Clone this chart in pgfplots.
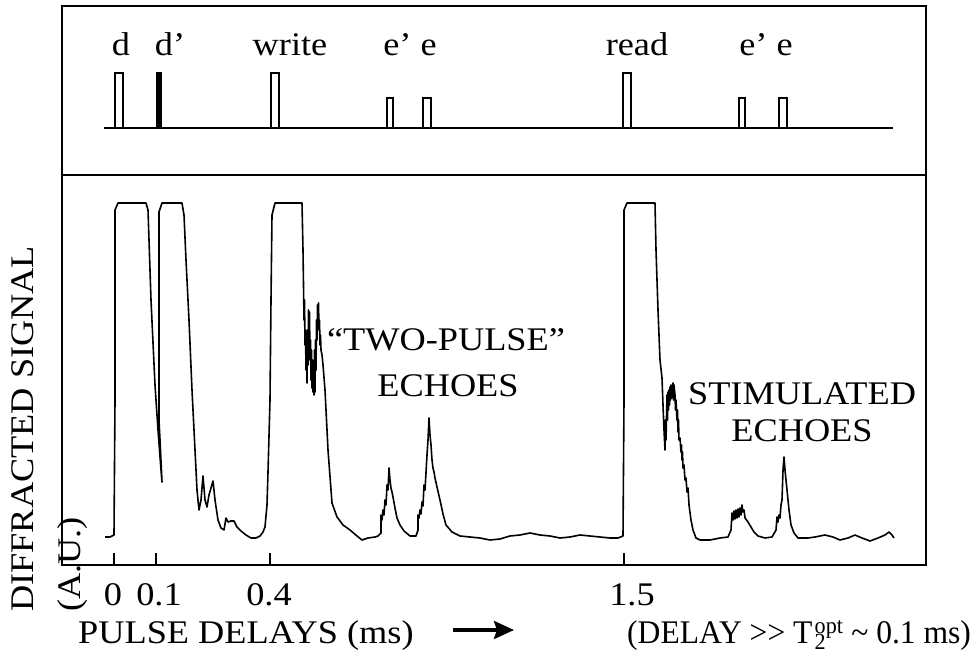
\documentclass[border=0pt]{standalone}
\usepackage{fontspec}
\setmainfont{Liberation Serif}[FakeStretch=1.1]
\usepackage{pgfplots}
\pgfplotsset{compat=1.18}
\usetikzlibrary{arrows.meta}
\pgfplotstableread{
px py
105 537
110 537
114 535
115 400
115 210
118 203
146 203
148 210
151 300
155 385
158 430
161 470
162 482
160 440
159 420
159 212
162 203
182 203
184 215
186 260
189 320
192 390
195 450
197 490
199 510
201 500
203 476
205 500
207 507
209 495
211 488
213 481
215 500
218 520
221 528
224 530
226 518
228 522
231 521
234 521
237 527
241 531
246 535
251 538
256 538
260 536
263 532
265 527
267 505
268 472
270 400
271 300
272 215
275 203
302 203
303 250
304 320
304.5 300
305 345
305.5 330
306 370
306.5 340
307 383
307.5 330
308 365
308.5 310
309 340
309.5 312
310 360
310.5 340
311 380
311.5 350
312 388
312.5 360
313 392
313.5 365
314 395
314.5 350
315 392
315.5 340
316 370
316.5 320
317 340
317.5 305
318 320
318.5 303
319 330
319.5 320
320 345
320.5 335
321 350
322 355
323 365
325 390
328 450
332 503
337 517
343 525
350 530
357 536
362 540
368 538
375 537
378 536
381 533
381 515
382 520
383 510
384 515
385 500
386 505
387 485
388 490
389 468
390 480
391 488
392 492
393 497
395 508
397 518
400 525
404 531
410 536
416 536
418 530
418 515
419 518
420 510
421 514
422 502
423 506
424 485
425 490
427 455
428 440
429 418
430 435
431 445
432 460
433 468
434 472
435 478
437 487
440 500
443 514
446 525
452 532
460 536
470 537
480 538
490 540
500 539
510 536
520 535
530 533
540 535
550 536
560 538
570 537
580 535
590 536
600 537
610 538
618 538
623 536
624 400
624 210
627 203
655 203
656 250
658 310
660 360
662 378
663 405
664 430
665 450
665.5 420
666 440
667 395
667.5 420
668 392
668.5 410
669 390
669.5 405
670 387
670.5 400
671 385
671.5 398
672 392
673 383
673.5 400
674 385
675 395
675.5 410
676 400
677 420
677.5 410
678 432
678.5 420
679 440
680 438
681 452
681.5 445
682 460
682.5 452
683 468
684 465
685 480
686 478
687 492
688 488
689 505
691 520
693 530
696 538
700 540
710 540
720 538
728 537
731 530
732 513
733 520
734 511
735 519
736 510
737 518
738 509
739 517
740 508
741 515
742 505
743 512
744 510
745 518
748 522
751 527
754 532
758 536
765 538
772 537
776 530
777 517
778 522
779 515
780 518
781 505
782 500
783 470
784 457
785 470
786 480
787 490
789 510
791 525
794 533
798 538
808 538
815 537
825 535
833 537
840 540
848 538
855 535
862 538
870 541
878 538
885 535
889 532
892 535
894 538
}\trace
\begin{document}
\begin{tikzpicture}[font=\fontsize{33}{40}\selectfont]
\useasboundingbox (0,0) rectangle (974pt,660pt);
\begin{axis}[
  at={(62pt,95pt)}, anchor=south west,
  scale only axis,
  width=864pt, height=559pt,
  xmin=62, xmax=926, ymin=6, ymax=565,
  y dir=reverse,
  clip=false,
  axis line style={line width=1.6pt},
  xtick={114,156,270,624},
  xticklabels=\empty,
  ytick=\empty,
  xtick pos=bottom,
  tick align=inside,
  major tick length=12pt,
  every tick/.style={black, line width=1.6pt},
]
% panel divider
\draw[line width=1.6pt] (axis cs:62,175) -- (axis cs:926,175);
% pulse sequence
\addplot[black, line width=2.5pt] coordinates {(104,128) (893,128)};
\addplot[black, line width=1.5pt, fill=white] coordinates {(115,128) (115,73) (123,73) (123,128)} -- cycle;
\addplot[black, line width=1.5pt, fill=black] coordinates {(157,128) (157,73) (161,73) (161,128)} -- cycle;
\addplot[black, line width=1.5pt, fill=white] coordinates {(271,128) (271,73) (279,73) (279,128)} -- cycle;
\addplot[black, line width=1.5pt, fill=white] coordinates {(387,128) (387,98) (393,98) (393,128)} -- cycle;
\addplot[black, line width=1.5pt, fill=white] coordinates {(423,128) (423,98) (431,98) (431,128)} -- cycle;
\addplot[black, line width=1.5pt, fill=white] coordinates {(623,128) (623,73) (631,73) (631,128)} -- cycle;
\addplot[black, line width=1.5pt, fill=white] coordinates {(739,128) (739,98) (745,98) (745,128)} -- cycle;
\addplot[black, line width=1.5pt, fill=white] coordinates {(779,128) (779,98) (787,98) (787,128)} -- cycle;
\node[anchor=base] at (axis cs:121,56) {d};
\node[anchor=base] at (axis cs:170,56) {d’};
\node[anchor=base] at (axis cs:290,56) {write};
\node[anchor=base] at (axis cs:410,56) {e’ e};
\node[anchor=base] at (axis cs:637,56) {read};
\node[anchor=base] at (axis cs:766,56) {e’ e};
% signal trace
\addplot[black, line width=1.6pt, line join=round] table[x=px, y=py] {\trace};
\node[anchor=base] at (axis cs:446,350) {“TWO-PULSE”};
\node[anchor=base] at (axis cs:448,396) {ECHOES};
\node[anchor=base] at (axis cs:802,404) {STIMULATED};
\node[anchor=base] at (axis cs:802,441) {ECHOES};
% tick labels
\node[anchor=base] at (axis cs:113,605) {0};
\node[anchor=base] at (axis cs:159,605) {0.1};
\node[anchor=base] at (axis cs:269,605) {0.4};
\node[anchor=base] at (axis cs:632,605) {1.5};
% axis labels
\node[rotate=90, anchor=base west, inner sep=0pt] at (axis cs:33,612) {DIFFRACTED SIGNAL};
\node[rotate=90, anchor=base west, inner sep=0pt] at (axis cs:80,612) {(A.U.)};
\node[anchor=base west, inner sep=0pt] at (axis cs:78,643) {PULSE DELAYS (ms)};
\draw[line width=3.5pt, -{Stealth[length=20pt, width=18pt, inset=3pt]}] (axis cs:453,630) -- (axis cs:514,630);
\node[anchor=base west, inner sep=0pt] at (axis cs:627,643) {\scalebox{0.87}[1]{(DELAY >{}> T\kern2.5pt\rlap{\textsubscript{2}}\textsuperscript{opt} \textasciitilde{} 0.1 ms)}};
\end{axis}
\end{tikzpicture}
\end{document}
